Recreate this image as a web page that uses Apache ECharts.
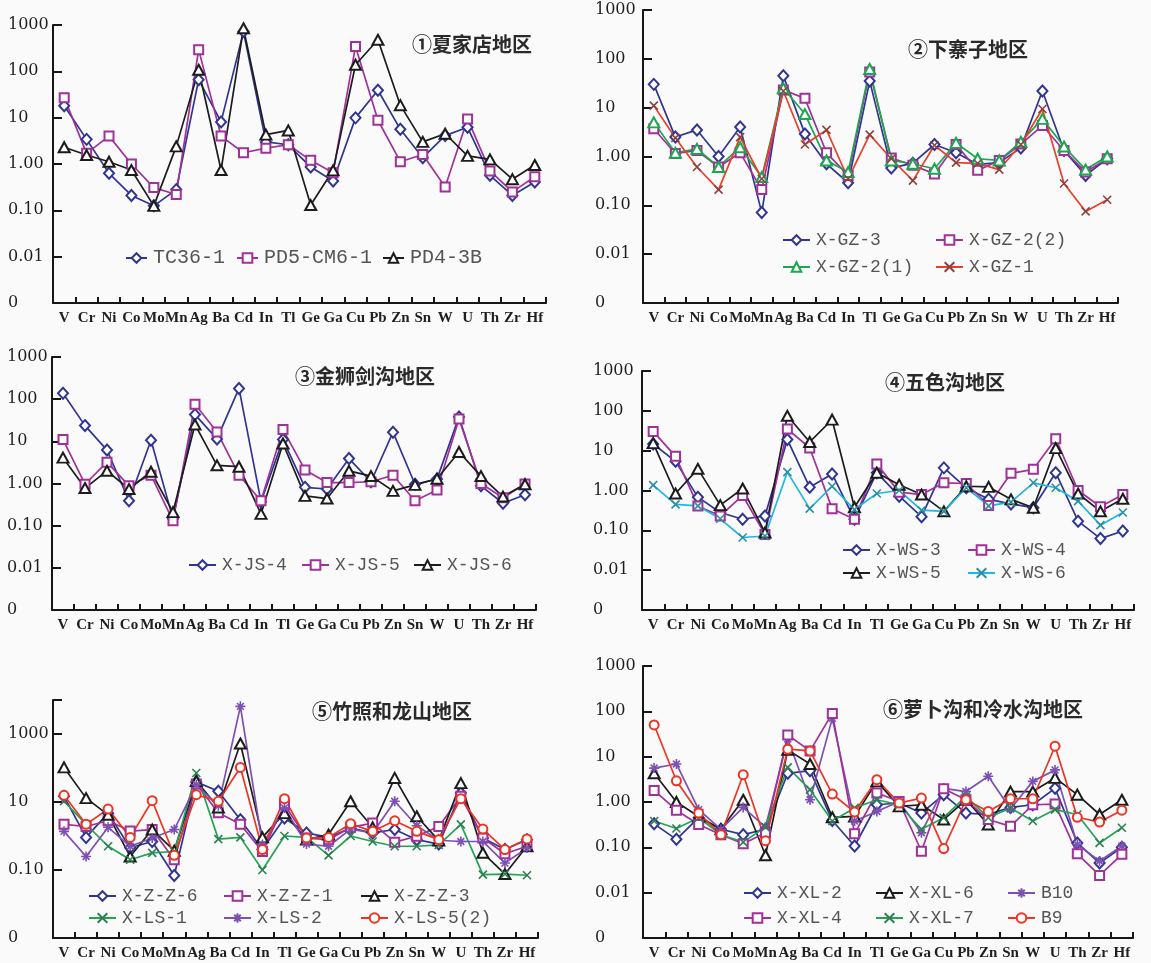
<!DOCTYPE html>
<html>
<head>
<meta charset="utf-8">
<script src="https://cdn.jsdelivr.net/npm/echarts@6/dist/echarts.min.js"></script>
<style>
  html, body { margin: 0; padding: 0; background: #fafafa; }
  #chart { width: 1151px; height: 963px; }
</style>
</head>
<body>
<div id="chart"></div>
<script>
// Element order along every x axis
const elements = ['V','Cr','Ni','Co','Mo','Mn','Ag','Ba','Cd','In','Tl','Ge','Ga','Cu','Pb','Zn','Sn','W','U','Th','Zr','Hf'];

// Log-axis tick labels (exponent -> text); 0.001 is shown as "0"
const yTickExp  = [-3, -2, -1, 0, 1, 2, 3];
const yTickText = ['0', '0.01', '0.10', '1.00', '10', '100', '1000'];

// ① 夏家店
const TC36_1    = [18, 3.4, 0.63, 0.21, 0.125, 0.28, 66, 8.1, 720, 3.0, 2.6, 0.86, 0.43, 9.9, 39, 5.6, 1.37, 4.1, 6.2, 0.57, 0.21, 0.41];
const PD5_CM6_1 = [27, 1.7, 4.0, 1.0, 0.31, 0.22, 294, 4.0, 1.75, 2.2, 2.6, 1.2, 0.65, 345, 8.8, 1.12, 1.6, 0.32, 9.4, 0.71, 0.25, 0.53];
const PD4_3B    = [2.3, 1.56, 1.12, 0.74, 0.125, 2.4, 108, 0.74, 850, 4.3, 5.3, 0.13, 0.73, 139, 480, 18.6, 3.0, 4.5, 1.5, 1.26, 0.47, 0.95];

// ② 下寨子
const X_GZ_3    = [30, 2.5, 3.5, 1.0, 4.0, 0.071, 45, 2.9, 0.71, 0.29, 35, 0.58, 0.73, 1.76, 1.19, 0.69, 0.75, 1.5, 22, 1.33, 0.41, 0.9];
const X_GZ_2_2  = [3.7, 1.15, 1.33, 0.61, 1.19, 0.21, 23, 15.5, 1.19, 0.41, 54, 0.93, 0.66, 0.44, 1.76, 0.52, 0.83, 1.8, 4.3, 1.33, 0.48, 0.9];
const X_GZ_2_1  = [5.0, 1.19, 1.43, 0.61, 1.55, 0.38, 25, 7.4, 0.83, 0.48, 62, 0.83, 0.71, 0.56, 1.9, 0.9, 0.83, 2.0, 5.9, 1.6, 0.54, 1.0];
const X_GZ_1    = [11, 2.4, 0.61, 0.21, 2.5, 0.35, 22, 1.76, 3.5, 0.35, 2.8, 0.9, 0.32, 1.7, 0.75, 0.72, 0.54, 1.76, 9.4, 0.28, 0.075, 0.13];

// ③ 金狮剑沟
const X_JS_4    = [138, 23.6, 6.2, 0.39, 10.6, 0.145, 43, 11.4, 180, 0.37, 11, 0.81, 0.74, 3.9, 1.1, 16.5, 0.96, 1.27, 38, 0.88, 0.34, 0.54];
const X_JS_5    = [11, 0.96, 3.2, 0.88, 1.57, 0.13, 76, 16.7, 1.57, 0.39, 19, 2.1, 1.05, 1.05, 1.1, 1.57, 0.39, 0.70, 34, 1.0, 0.46, 0.97];
const X_JS_6    = [4.1, 0.78, 2.0, 0.74, 1.9, 0.21, 25, 2.7, 2.5, 0.19, 8.9, 0.51, 0.44, 2.0, 1.5, 0.67, 0.93, 1.3, 5.6, 1.5, 0.49, 0.96];

// ④ 五色沟
const X_WS_3    = [14.7, 5.4, 0.68, 0.28, 0.19, 0.23, 19, 1.2, 2.6, 0.19, 2.8, 0.72, 0.22, 3.7, 1.17, 0.6, 0.46, 0.37, 2.8, 0.17, 0.062, 0.096];
const X_WS_4    = [30.5, 7.2, 0.41, 0.23, 0.75, 0.079, 35, 11.7, 0.35, 0.19, 4.6, 0.91, 0.79, 1.56, 1.5, 0.42, 2.7, 3.4, 20, 1.0, 0.39, 0.79];
const X_WS_5    = [15.5, 0.84, 3.5, 0.43, 1.12, 0.088, 75, 16.5, 60, 0.38, 2.8, 1.4, 0.79, 0.30, 1.28, 1.23, 0.6, 0.37, 11.6, 0.84, 0.30, 0.62];
const X_WS_6    = [1.36, 0.45, 0.41, 0.195, 0.066, 0.072, 2.9, 0.35, 1.28, 0.33, 0.84, 1.0, 0.32, 0.30, 1.17, 0.41, 0.51, 1.56, 1.17, 0.54, 0.135, 0.28];

// ⑤ 竹照和龙山
const X_Z_Z_6   = [14.7, 0.91, 4.7, 0.45, 0.69, 0.069, 39, 20.6, 3.0, 0.40, 3.4, 1.23, 0.91, 1.7, 1.23, 1.55, 0.78, 0.58, 18.4, 0.87, 0.40, 0.78];
const X_Z_Z_1   = [2.2, 1.9, 2.8, 1.4, 1.55, 0.2, 34, 4.8, 2.2, 0.35, 8.3, 0.87, 0.78, 1.8, 2.4, 0.66, 0.98, 1.9, 14.7, 0.87, 0.3, 0.5];
const X_Z_Z_3   = [104, 13, 4.2, 0.25, 1.55, 0.37, 41, 6.9, 525, 0.91, 4.7, 0.78, 1.1, 10.5, 1.8, 51, 3.8, 0.73, 36, 0.32, 0.076, 0.5];
const X_LS_1    = [10.5, 2.2, 0.5, 0.2, 0.32, 0.35, 71, 0.81, 0.91, 0.10, 1.0, 0.91, 0.27, 1.0, 0.69, 0.5, 0.5, 0.55, 2.2, 0.073, 0.076, 0.07];
const X_LS_2    = [1.37, 0.25, 1.8, 0.5, 0.87, 1.55, 32, 7.8, 6500, 0.56, 6.7, 0.58, 0.5, 1.6, 1.23, 10.5, 2.0, 0.75, 0.69, 0.69, 0.16, 0.44];
const X_LS_5_2  = [15.7, 2.2, 6.2, 0.91, 10.9, 0.27, 16.4, 10.5, 104, 0.40, 12.5, 0.87, 0.91, 2.3, 1.37, 2.8, 1.37, 0.78, 12.5, 1.6, 0.4, 0.82];

// ⑥ 萝卜沟和冷水沟
const X_XL_2    = [0.33, 0.15, 0.45, 0.25, 0.19, 0.25, 4.3, 4.9, 0.39, 0.107, 0.87, 0.95, 0.57, 1.45, 0.57, 0.53, 0.76, 0.87, 2.0, 0.125, 0.045, 0.1];
const X_XL_4    = [1.8, 0.66, 0.32, 0.19, 0.12, 0.21, 30, 13.4, 90, 0.2, 1.58, 1.03, 0.082, 1.96, 1.12, 0.41, 0.29, 0.87, 0.9, 0.072, 0.024, 0.07];
const X_XL_6    = [4.3, 1.0, 0.48, 0.25, 1.12, 0.067, 14.1, 6.9, 0.46, 0.48, 2.85, 0.8, 0.87, 0.41, 1.12, 0.32, 1.7, 1.7, 3.4, 1.45, 0.53, 1.12];
const X_XL_7    = [0.38, 0.26, 0.45, 0.19, 0.13, 0.28, 5.8, 1.87, 0.38, 0.74, 1.12, 0.87, 0.25, 0.45, 1.33, 0.45, 0.74, 0.38, 0.68, 0.53, 0.125, 0.27];
const B10       = [5.6, 6.9, 0.68, 0.25, 0.76, 0.28, 24.6, 1.12, 70, 0.38, 0.62, 1.03, 0.21, 2.0, 1.7, 3.7, 0.7, 2.85, 5.1, 0.115, 0.05, 0.107];
const B9        = [50, 2.94, 0.57, 0.19, 4.0, 0.14, 14.6, 13.4, 1.5, 0.6, 3.1, 0.95, 1.22, 0.094, 1.12, 0.62, 1.18, 1.18, 17, 0.46, 0.36, 0.66];

// Marker/line looks
const CROSS = 'path://M0,0L10,10M10,0L0,10';
const STAR  = 'path://M5,0L5,10M0,5L10,5M1.6,1.6L8.4,8.4M8.4,1.6L1.6,8.4';
const LOOKS = {
  blueDiamond:   { line: '#2f3590', mark: '#2f3590', symbol: 'emptyDiamond',  size: [10, 11] },
  magentaSquare: { line: '#a03198', mark: '#a03198', symbol: 'emptyRect',     size: 9 },
  blackTriangle: { line: '#1c1c1c', mark: '#1c1c1c', symbol: 'emptyTriangle', size: [11, 10] },
  greenTriangle: { line: '#19a84d', mark: '#19a84d', symbol: 'emptyTriangle', size: [11, 10] },
  redCross:      { line: '#ea3f26', mark: '#8e4040', symbol: CROSS, size: 8 },
  cyanCross:     { line: '#1fb6e6', mark: '#2a8f9e', symbol: CROSS, size: 8 },
  greenCross:    { line: '#22a455', mark: '#2e7f52', symbol: CROSS, size: 8 },
  purpleStar:    { line: '#7d50b3', mark: '#7d50b3', symbol: STAR,  size: 10 },
  redCircle:     { line: '#ee3322', mark: '#ee3322', symbol: 'emptyCircle',   size: 9 }
};

// Panel layout: grid box [left, top, width, height], title anchor, legend anchors
const panels = [
  { title: '①夏家店地区', titleAt: [412, 34], box: [53, 25, 493, 278], yMax: 1000, step: 1, labelLeft: 8,
    legendFont: 20, legendIcon: 21,
    series: [['TC36-1', TC36_1, 'blueDiamond', [125, 258]],
             ['PD5-CM6-1', PD5_CM6_1, 'magentaSquare', [236, 258]],
             ['PD4-3B', PD4_3B, 'blackTriangle', [382, 258]]] },
  { title: '②下寨子地区', titleAt: [908, 39], box: [643, 10, 475, 293], yMax: 1000, step: 1, labelLeft: 595,
    legendFont: 18, legendIcon: 27,
    series: [['X-GZ-3', X_GZ_3, 'blueDiamond', [782, 240]],
             ['X-GZ-2(2)', X_GZ_2_2, 'magentaSquare', [935, 240]],
             ['X-GZ-2(1)', X_GZ_2_1, 'greenTriangle', [782, 267]],
             ['X-GZ-1', X_GZ_1, 'redCross', [935, 267]]] },
  { title: '③金狮剑沟地区', titleAt: [295, 366], box: [52, 357, 484, 253], yMax: 1000, step: 1, labelLeft: 7,
    legendFont: 18, legendIcon: 27,
    series: [['X-JS-4', X_JS_4, 'blueDiamond', [188, 565]],
             ['X-JS-5', X_JS_5, 'magentaSquare', [301, 565]],
             ['X-JS-6', X_JS_6, 'blackTriangle', [413, 565]]] },
  { title: '④五色沟地区', titleAt: [885, 372], box: [642, 371, 492, 239], yMax: 1000, step: 1, labelLeft: 593,
    legendFont: 18, legendIcon: 27,
    series: [['X-WS-3', X_WS_3, 'blueDiamond', [842, 550]],
             ['X-WS-4', X_WS_4, 'magentaSquare', [967, 550]],
             ['X-WS-5', X_WS_5, 'blackTriangle', [842, 573]],
             ['X-WS-6', X_WS_6, 'cyanCross', [967, 573]]] },
  { title: '⑤竹照和龙山地区', titleAt: [312, 701], box: [53, 700, 485, 238], yMax: 10000, step: 2, labelLeft: 8,
    legendFont: 18, legendIcon: 27,
    series: [['X-Z-Z-6', X_Z_Z_6, 'blueDiamond', [88, 896]],
             ['X-Z-Z-1', X_Z_Z_1, 'magentaSquare', [223, 896]],
             ['X-Z-Z-3', X_Z_Z_3, 'blackTriangle', [360, 896]],
             ['X-LS-1', X_LS_1, 'greenCross', [88, 918]],
             ['X-LS-2', X_LS_2, 'purpleStar', [223, 918]],
             ['X-LS-5(2)', X_LS_5_2, 'redCircle', [360, 918]]] },
  { title: '⑥萝卜沟和冷水沟地区', titleAt: [883, 699], box: [643, 666, 490, 272], yMax: 1000, step: 1, labelLeft: 595,
    legendFont: 18, legendIcon: 27,
    series: [['X-XL-2', X_XL_2, 'blueDiamond', [743, 893]],
             ['X-XL-6', X_XL_6, 'blackTriangle', [875, 893]],
             ['B10', B10, 'purpleStar', [1007, 893]],
             ['X-XL-4', X_XL_4, 'magentaSquare', [743, 918]],
             ['X-XL-7', X_XL_7, 'greenCross', [875, 918]],
             ['B9', B9, 'redCircle', [1007, 918]]] }
];

function yLabel(v) {
  const e = Math.round(Math.log10(v));
  const i = yTickExp.indexOf(e);
  return i >= 0 ? yTickText[i] : '';
}

const AXIS_COLOR = '#161616';
const option = {
  animation: false,
  backgroundColor: '#fafafa',
  title: [], grid: [], xAxis: [], yAxis: [], legend: [], series: []
};

panels.forEach((p, k) => {
  const [left, top, width, height] = p.box;
  option.title.push({
    text: p.title, left: p.titleAt[0], top: p.titleAt[1], padding: 0,
    textStyle: { fontFamily: 'Noto Sans CJK SC', fontSize: 20, fontWeight: 'bold', color: '#2a2a2a' }
  });
  option.grid.push({ left, top, width, height, containLabel: false, outerBoundsMode: 'none' });
  option.xAxis.push({
    type: 'category', gridIndex: k, data: elements, boundaryGap: true,
    axisLine: { onZero: false, lineStyle: { color: AXIS_COLOR, width: 2 } },
    axisTick: { show: true, inside: true, length: 6, lineStyle: { color: AXIS_COLOR, width: 2 } },
    axisLabel: { interval: 0, margin: 8, fontFamily: 'Liberation Serif', fontWeight: 'bold', fontSize: 15, color: '#1e1e1e' },
    splitLine: { show: false }
  });
  option.yAxis.push({
    type: 'log', logBase: 10, gridIndex: k, min: 0.001, max: p.yMax, interval: p.step,
    axisLine: { show: true, lineStyle: { color: AXIS_COLOR, width: 2 } },
    axisTick: { show: true, inside: true, length: 9, lineStyle: { color: AXIS_COLOR, width: 2 } },
    axisLabel: { show: true, align: 'left', margin: left - p.labelLeft, formatter: yLabel,
                 fontFamily: 'DejaVu Serif', fontSize: 16, color: '#1e1e1e' },
    splitLine: { show: false }
  });
  p.series.forEach(([name, values, lookKey, at]) => {
    const look = LOOKS[lookKey];
    option.series.push({
      name, type: 'line', xAxisIndex: k, yAxisIndex: k, data: values,
      symbol: look.symbol, symbolSize: look.size, showAllSymbol: true,
      lineStyle: { color: look.line, width: 1.7 },
      itemStyle: { color: look.mark, borderColor: look.mark, borderWidth: 1.6 },
      emphasis: { disabled: true }
    });
    option.legend.push({
      data: [name], left: at[0], top: at[1] - 10, padding: 0, orient: 'horizontal',
      itemWidth: p.legendIcon, itemHeight: 12, itemGap: 0, selectedMode: false,
      textStyle: { fontFamily: 'Liberation Mono', fontSize: p.legendFont, color: '#555', lineHeight: 20, padding: [0, 0, 0, 1] }
    });
  });
});

const chart = echarts.init(document.getElementById('chart'), null, { renderer: 'canvas' });
chart.setOption(option);
</script>
</body>
</html>
